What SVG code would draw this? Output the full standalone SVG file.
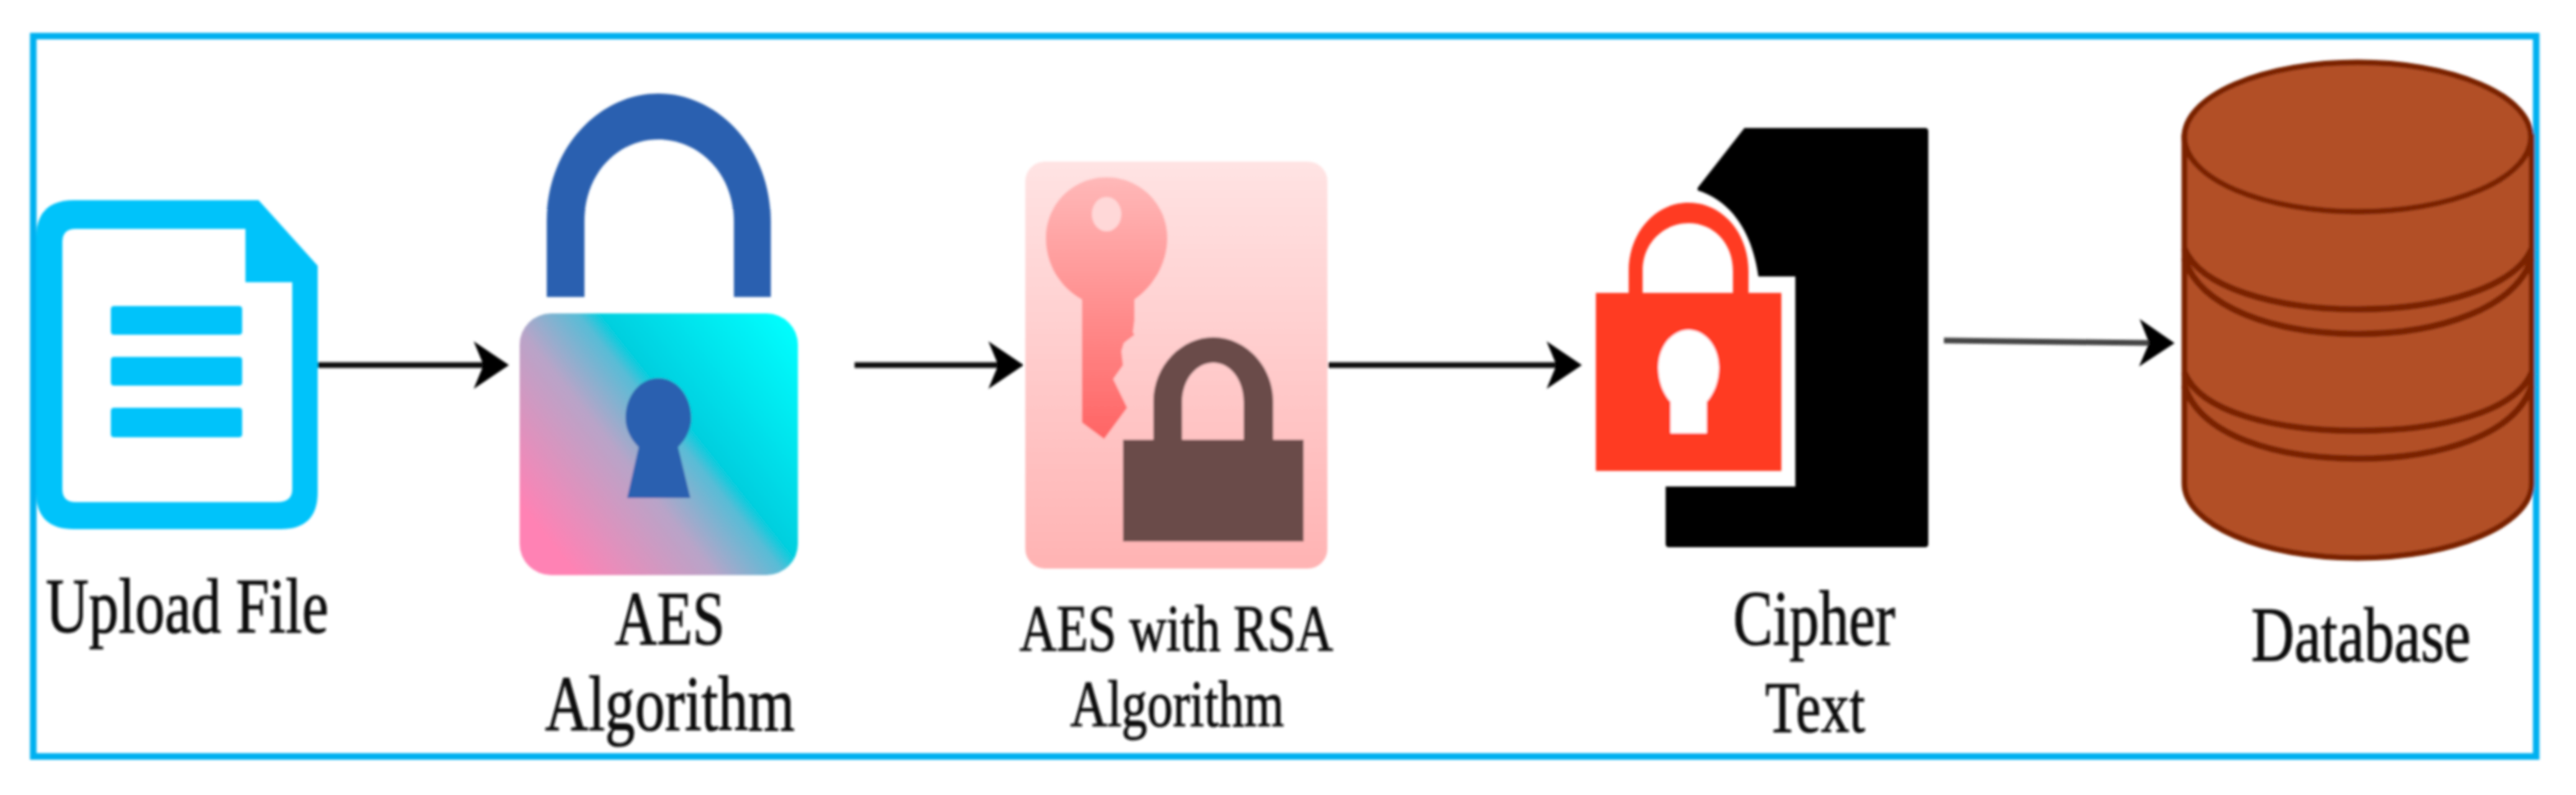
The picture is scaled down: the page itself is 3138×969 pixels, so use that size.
<svg xmlns="http://www.w3.org/2000/svg" width="3138" height="969" viewBox="0 0 3138 969">
<style>
.lbl{font-family:"Liberation Serif","Times New Roman",serif;fill:#111;stroke:#111;stroke-width:0.8;text-anchor:middle}
.conn{fill:none;stroke:#111;stroke-width:7;marker-end:url(#head)}
.db{fill:#b25025;stroke:#7a2200;stroke-width:7}
.dbl{fill:none;stroke:#7a2200;stroke-width:8}
</style>
<defs>
<marker id="head" markerUnits="userSpaceOnUse" markerWidth="46" markerHeight="62" refX="14" refY="31" orient="auto">
<path d="M1,2 L44,31 L1,60 L13,31Z" fill="#000"/>
</marker>
<linearGradient id="lockG" gradientUnits="userSpaceOnUse" x1="640" y1="695" x2="988" y2="418">
<stop offset="0.1" stop-color="#ff82b4"/><stop offset="0.4" stop-color="#b8a4c8"/><stop offset="0.55" stop-color="#58bcd6"/><stop offset="0.6" stop-color="#00cfdf"/><stop offset="1" stop-color="#00ffff"/>
</linearGradient>
<linearGradient id="cardG" x1="0" y1="0" x2="0" y2="1">
<stop offset="0" stop-color="#ffe3e3"/><stop offset="1" stop-color="#ffb3b3"/>
</linearGradient>
<linearGradient id="keyG" x1="0" y1="0" x2="0" y2="1">
<stop offset="0" stop-color="#ffb8b8"/><stop offset="1" stop-color="#ff6464"/>
</linearGradient>
<filter id="soft" x="-1%" y="-1%" width="102%" height="102%"><feGaussianBlur stdDeviation="1.5"/></filter>
</defs>
<rect width="3138" height="969" fill="#fff"/>
<g filter="url(#soft)">
<rect id="frame" x="40.500" y="44" width="3049" height="878" fill="none" stroke="#00b0f0" stroke-width="8"/>
<g id="connectors">
<path class="conn" d="M387,445H590"/>
<path class="conn" d="M1041,445H1217"/>
<path class="conn" d="M1618,445H1897"/>
<path class="conn" d="M2368,415L2619,418" style="stroke:#444"/>
</g>
<g id="upload-file">
<path fill="#00c3fa" fill-rule="evenodd" d="M90,244H315L387,324V600Q387,645 342,645H90Q44,645 44,600V290Q44,244 90,244ZM92,279Q76,279 76,295V596Q76,612 92,612H338Q356,612 356,596V344H299V279Z"/>
<rect x="135" y="373" width="160" height="35" rx="4" fill="#00c3fa"/>
<rect x="135" y="435" width="160" height="35" rx="4" fill="#00c3fa"/>
<rect x="135" y="497" width="160" height="36" rx="4" fill="#00c3fa"/>
<text class="lbl" font-size="72.500" transform="translate(228,771) scale(1,1.3)">Upload File</text>
</g>
<g id="aes-algorithm">
<path fill="#2960b0" d="M666,362V270C666,180 730,114 802,114C874,114 939,180 939,270V362H894V270C894,210 850,170 802,170C754,170 712,210 712,270V362Z"/>
<rect x="633" y="382" width="339" height="319" rx="38" fill="url(#lockG)"/>
<path fill="#2960b0" d="M764,607L778,545C768,535 762,522 762,510C762,482 780,461 802,461C824,461 842,482 842,510C842,522 836,535 826,545L841,607Z"/>
<text class="lbl" font-size="71" transform="translate(816,785) scale(1,1.3)">AES</text>
<text class="lbl" font-size="73" transform="translate(816,890) scale(1,1.3)">Algorithm</text>
</g>
<g id="aes-with-rsa">
<rect x="1249" y="197" width="368" height="496" rx="24" fill="url(#cardG)"/>
<path fill="url(#keyG)" d="M1318,365C1291,350 1274,322 1274,290C1274,249 1307,216 1348,216C1389,216 1422,249 1422,290C1422,322 1404,350 1382,365V390L1380,405L1382,408L1369,418L1366,428L1368,445L1356,462L1373,497L1345,535L1318,515Z"/>
<ellipse cx="1348" cy="261" rx="18" ry="21" fill="#ffd8d8"/>
<path fill="#6b4c4a" d="M1405,540V490C1405,445 1440,411 1478,411C1516,411 1551,445 1551,490V540H1515V490C1515,462 1498,442 1478,442C1458,442 1440,462 1440,490V540Z"/>
<rect x="1368" y="536" width="220" height="124" fill="#6b4c4a"/>
<text class="lbl" font-size="62.500" transform="translate(1433,793) scale(1,1.3)">AES with RSA</text>
<text class="lbl" font-size="62.500" transform="translate(1434,885) scale(1,1.3)">Algorithm</text>
</g>
<g id="cipher-text">
<path fill="#000" d="M2125,156H2345Q2349,156 2349,160V663Q2349,667 2345,667H2033Q2029,667 2029,663V593H2187V337H2142C2135,285 2110,245 2068,232V229Z"/>
<path fill="#ff3b24" fill-rule="evenodd" d="M1984,357V330C1984,285 2015,247 2057,247C2099,247 2130,285 2130,330V357H2170V574H1944V357ZM2001,357H2111V330C2111,296 2087,272 2057,272C2027,272 2001,296 2001,330Z"/>
<path fill="#fff" d="M2035,528V490C2026,480 2020,465 2020,448C2020,422 2037,402 2057,402C2077,402 2094,422 2094,448C2094,465 2088,480 2079,490V528Z"/>
<text class="lbl" font-size="72.500" transform="translate(2210,786) scale(1,1.3)">Cipher</text>
<text class="lbl" font-size="69" transform="translate(2211,892) scale(1,1.3)">Text</text>
</g>
<g id="database">
<path class="db" d="M2661,167V589C2661,639 2755,680 2872,680C2989,680 3084,639 3084,589V167Z"/>
<ellipse class="db" cx="2872" cy="167" rx="211" ry="91"/>
<path class="dbl" d="M2661,303C2680,350 2770,377 2872,377C2974,377 3064,350 3084,303"/>
<path class="dbl" d="M2661,315C2680,375 2770,407 2872,407C2974,407 3064,375 3084,315"/>
<path class="dbl" d="M2661,454C2680,502 2770,525 2872,525C2974,525 3064,502 3084,454"/>
<path class="dbl" d="M2661,470C2680,530 2770,559 2872,559C2974,559 3064,530 3084,470"/>
<text class="lbl" font-size="73" transform="translate(2876,806) scale(1,1.3)">Database</text>
</g>
</g>
</svg>
